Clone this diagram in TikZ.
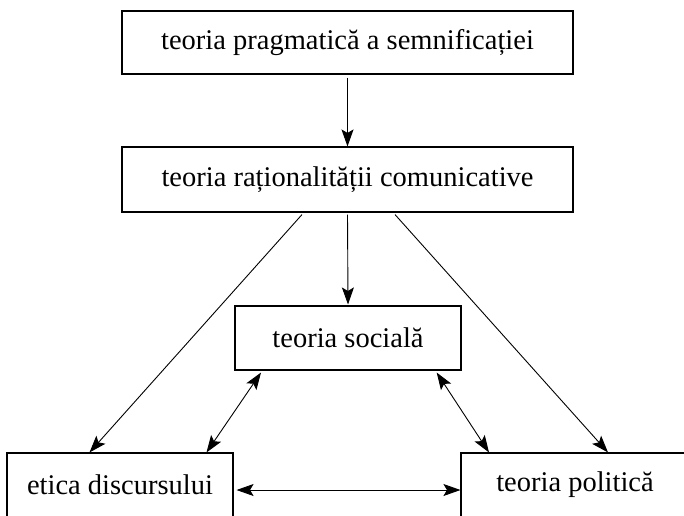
\documentclass[tikz,border=0pt]{standalone}
\usepackage{fontspec}
\setmainfont{Liberation Serif}
\usetikzlibrary{arrows.meta,calc}
\begin{document}
\begin{tikzpicture}[x=1pt,y=-1pt,
  box/.style={draw,line width=1.1pt,inner sep=0pt,font=\fontsize{28.5}{32}\selectfont},
  tip/.tip={Stealth[length=17pt,width=12pt,inset=3.5pt]},
  conn/.style={line width=0.9pt,-tip},
  dconn/.style={line width=0.9pt,tip-tip}]
\clip (0,0) rectangle (684,515);
\fill[white] (0,0) rectangle (684,515);
\node[box,minimum width=451pt,minimum height=63pt] (top) at (347.5,42.5) {teoria pragmatică a semnificației};
\node[box,minimum width=451pt,minimum height=65pt] (rat) at (347.5,179.5) {teoria raționalității comunicative};
\node[box,minimum width=226pt,minimum height=64pt] (soc) at (348,338) {teoria socială};
\node[box,minimum width=226pt,minimum height=64pt] (eti) at (120,485) {etica discursului};
\node[box,minimum width=228pt,minimum height=64pt] (pol) at (575,485) {teoria politică};
\draw[conn] ([yshift=-3pt]top.south) -- (rat.north);
\draw[conn] ([yshift=-2pt]rat.south) -- ([yshift=1pt]soc.north);
\draw[conn] ([xshift=-45.5pt,yshift=-2pt]rat.south) -- ([xshift=-30.5pt]eti.north);
\draw[conn] ([xshift=47.5pt,yshift=-2pt]rat.south) -- ([xshift=33pt]pol.north);
\draw[dconn] ([xshift=-87pt,yshift=-2pt]soc.south) -- ([xshift=86.5pt]eti.north);
\draw[dconn] ([xshift=88.7pt,yshift=-2pt]soc.south) -- ([xshift=-86pt]pol.north);
\draw[dconn] ([xshift=3pt,yshift=-5pt]eti.east) -- ([yshift=-5pt]pol.west);
\end{tikzpicture}
\end{document}
